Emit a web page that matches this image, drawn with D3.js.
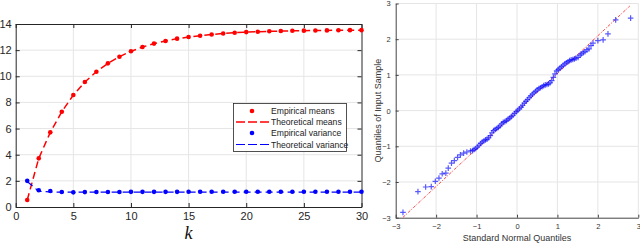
<!DOCTYPE html>
<html><head><meta charset="utf-8">
<script src="https://cdn.jsdelivr.net/npm/d3@7"></script>
<style>body{margin:0;background:#fff}svg{display:block;font-family:"Liberation Sans",Arial,sans-serif}</style>
</head><body>
<svg id="c" width="640" height="244"></svg>
<script>
// ---- Left chart data ----
const kValues = d3.range(1, 31);
const empiricalMeans = [0.54,3.72,5.71,7.29,8.57,9.56,10.35,10.99,11.5,11.91,12.24,12.5,12.7,12.88,13.0,13.1,13.2,13.27,13.33,13.38,13.41,13.44,13.46,13.48,13.49,13.5,13.51,13.52,13.53,13.53];
const theoreticalMeans = [0.54,3.72,5.71,7.29,8.57,9.56,10.35,10.99,11.5,11.91,12.24,12.5,12.7,12.88,13.0,13.1,13.2,13.27,13.33,13.38,13.41,13.44,13.46,13.48,13.49,13.5,13.51,13.52,13.53,13.53];
const empiricalVariance = [2.0,1.28,1.22,1.15,1.12,1.14,1.15,1.15,1.15,1.16,1.16,1.16,1.16,1.16,1.17,1.17,1.17,1.17,1.17,1.17,1.17,1.17,1.17,1.17,1.17,1.17,1.17,1.17,1.17,1.17];
const theoreticalVariance = [1.95,1.2,1.15,1.14,1.14,1.14,1.14,1.14,1.14,1.14,1.14,1.14,1.14,1.14,1.14,1.14,1.14,1.14,1.14,1.14,1.14,1.14,1.14,1.14,1.14,1.14,1.14,1.14,1.14,1.14];
const leftXTicks = [0,5,10,15,20,25,30];
const leftYTicks = [0,2,4,6,8,10,12,14];
const legendLabels = ["Empirical means","Theoretical means","Empirical variance","Theoretical variance"];

// ---- Right chart (QQ) data ----
const qqTheoretical = [-2.82,-2.45,-2.26,-2.12,-2.02,-1.93,-1.85,-1.76,-1.70,-1.62,-1.55,-1.47,-1.40,-1.32,-1.24,-1.15,
 -1.10,-1.06,-1.02,-0.98,-0.94,-0.90,-0.86,-0.82,-0.78,-0.74,-0.70,-0.66,-0.62,-0.58,-0.54,-0.50,-0.46,-0.42,-0.38,-0.34,-0.30,-0.26,-0.22,-0.18,-0.14,-0.10,-0.06,-0.02,
 0.02,0.06,0.10,0.14,0.18,0.22,0.26,0.30,0.34,0.38,0.42,0.46,0.50,0.54,0.58,0.62,0.66,0.70,0.74,0.78,0.82,0.86,0.90,0.94,0.98,1.02,1.06,1.10,1.14,1.18,1.22,1.26,1.30,1.34,1.38,1.42,1.46,1.51,1.56,1.59,1.64,1.68,1.73,1.78,1.83,1.88,2.00,2.13,2.25,2.44,2.81];
const qqSample = [-2.85,-2.27,-2.14,-2.13,-1.98,-1.89,-1.77,-1.75,-1.61,-1.47,-1.40,-1.31,-1.24,-1.19,-1.16,-1.13,
 -1.12,-1.09,-1.06,-1.02,-0.97,-0.92,-0.88,-0.85,-0.82,-0.80,-0.76,-0.70,-0.62,-0.56,-0.53,-0.50,-0.47,-0.43,-0.37,-0.33,-0.31,-0.28,-0.24,-0.21,-0.17,-0.13,-0.08,-0.03,
 0.01,0.05,0.10,0.15,0.21,0.26,0.31,0.36,0.41,0.46,0.50,0.54,0.58,0.62,0.64,0.67,0.70,0.72,0.73,0.75,0.78,0.84,0.93,1.03,1.11,1.15,1.19,1.23,1.27,1.31,1.34,1.37,1.40,1.42,1.43,1.45,1.47,1.49,1.55,1.59,1.62,1.65,1.70,1.73,1.82,1.89,1.96,1.98,2.15,2.54,2.59];
const refLineX = [-2.82, 2.79];
const refLineY = [-2.99, 2.93];
const rightTicks = [-3,-2,-1,0,1,2,3];

const svg = d3.select("#c");
const axisCol = "#262626", gridCol = "#e5e5e5";

// ================= LEFT =================
const xL = d3.scaleLinear().domain([0,30]).range([15.7,361.5]);
const yL = d3.scaleLinear().domain([0,14]).range([207,24]);
const gL = svg.append("g");
gL.append("g").selectAll("line").data(leftXTicks.slice(1,-1)).join("line")
  .attr("x1",d=>xL(d)).attr("x2",d=>xL(d)).attr("y1",yL(0)).attr("y2",yL(14))
  .attr("stroke",gridCol).attr("stroke-width",1);
gL.append("g").selectAll("line").data(leftYTicks.slice(1,-1)).join("line")
  .attr("y1",d=>yL(d)).attr("y2",d=>yL(d)).attr("x1",xL(0)).attr("x2",xL(30))
  .attr("stroke",gridCol).attr("stroke-width",1);
const axB = gL.append("g").attr("transform",`translate(0,${yL(0)})`)
  .call(d3.axisBottom(xL).tickValues(leftXTicks).tickSizeInner(-4).tickSizeOuter(0).tickPadding(5));
const axT = gL.append("g").attr("transform",`translate(0,${yL(14)})`)
  .call(d3.axisTop(xL).tickValues(leftXTicks).tickSizeInner(-4).tickSizeOuter(0).tickFormat(""));
const axLf = gL.append("g").attr("transform",`translate(${xL(0)},0)`)
  .call(d3.axisLeft(yL).tickValues(leftYTicks).tickSizeInner(-4).tickSizeOuter(0).tickPadding(4));
const axR = gL.append("g").attr("transform",`translate(${xL(30)},0)`)
  .call(d3.axisRight(yL).tickValues(leftYTicks).tickSizeInner(-4).tickSizeOuter(0).tickFormat(""));
[axB,axT,axLf,axR].forEach(a=>{
  a.select(".domain").attr("stroke",axisCol).attr("stroke-width",1);
  a.selectAll(".tick line").attr("stroke",axisCol);
  a.selectAll("text").attr("fill",axisCol).attr("font-size",11).attr("font-family","Liberation Sans, Arial, sans-serif");
});
const lineL = (arr)=>d3.line().x((d,i)=>xL(kValues[i])).y(d=>yL(d))(arr);
gL.append("path").attr("d",lineL(theoreticalMeans)).attr("fill","none").attr("stroke","#ff0000").attr("stroke-width",1.5).attr("stroke-dasharray","7,4");
gL.append("path").attr("d",lineL(theoreticalVariance)).attr("fill","none").attr("stroke","#0000ff").attr("stroke-width",1.2).attr("stroke-dasharray","7,4");
gL.append("g").selectAll("circle").data(empiricalMeans).join("circle")
  .attr("cx",(d,i)=>xL(kValues[i])).attr("cy",d=>yL(d)).attr("r",2.3).attr("fill","#ff0000");
gL.append("g").selectAll("circle").data(empiricalVariance).join("circle")
  .attr("cx",(d,i)=>xL(kValues[i])).attr("cy",d=>yL(d)).attr("r",2.3).attr("fill","#0000ff");
gL.append("text").attr("x",xL(15)).attr("y",238.5).attr("text-anchor","middle")
  .attr("font-family","Liberation Serif, serif").attr("font-style","italic").attr("font-size",18).attr("fill","#111").text("k");
const lg = gL.append("g");
lg.append("rect").attr("x",233.5).attr("y",103.5).attr("width",113).attr("height",48)
  .attr("fill","#fff").attr("stroke",axisCol).attr("stroke-width",0.8);
const legY = [111,122,133,144.5];
const legCol = ["#ff0000","#ff0000","#0000ff","#0000ff"];
legendLabels.forEach((t,i)=>{
  if(i%2===0){
    lg.append("circle").attr("cx",252).attr("cy",legY[i]).attr("r",2.3).attr("fill",legCol[i]);
  } else {
    lg.append("line").attr("x1",236).attr("x2",269).attr("y1",legY[i]).attr("y2",legY[i])
      .attr("stroke",legCol[i]).attr("stroke-width",i===1?1.5:1.2).attr("stroke-dasharray","9,3");
  }
  lg.append("text").attr("x",271).attr("y",legY[i]+3).attr("font-size",8.6).attr("fill","#222").text(t);
});

// ================= RIGHT =================
const xR = d3.scaleLinear().domain([-3,3]).range([395.7,638.3]);
const yR = d3.scaleLinear().domain([-3,3]).range([217.7,3.5]);
const gR = svg.append("g");
gR.append("g").selectAll("line").data(rightTicks.slice(1)).join("line")
  .attr("x1",d=>xR(d)).attr("x2",d=>xR(d)).attr("y1",yR(-3)).attr("y2",yR(3))
  .attr("stroke",gridCol);
gR.append("g").selectAll("line").data(rightTicks.slice(1)).join("line")
  .attr("y1",d=>yR(d)).attr("y2",d=>yR(d)).attr("x1",xR(-3)).attr("x2",xR(3))
  .attr("stroke",gridCol);
const rB = gR.append("g").attr("transform",`translate(0,${yR(-3)})`)
  .call(d3.axisBottom(xR).tickValues(rightTicks).tickFormat(d3.format("d")).tickSizeInner(-3).tickSizeOuter(0).tickPadding(6));
const rL = gR.append("g").attr("transform",`translate(${xR(-3)},0)`)
  .call(d3.axisLeft(yR).tickValues(rightTicks).tickFormat(d3.format("d")).tickSizeInner(-3).tickSizeOuter(0).tickPadding(5));
[rB,rL].forEach(a=>{
  a.select(".domain").attr("stroke","#444").attr("stroke-width",1);
  a.selectAll(".tick line").attr("stroke","#444");
  a.selectAll("text").attr("fill","#333").attr("font-size",7.5).attr("font-family","Liberation Sans, Arial, sans-serif");
});
gR.append("line").attr("x1",xR(refLineX[0])).attr("y1",yR(refLineY[0])).attr("x2",xR(refLineX[1])).attr("y2",yR(refLineY[1]))
  .attr("stroke","#ff3030").attr("stroke-width",0.9).attr("stroke-dasharray","3,1.5,1,1.5");
const cs = 2.8;
gR.append("g").selectAll("path").data(qqTheoretical).join("path")
  .attr("d",(d,i)=>{const x=xR(d), y=yR(qqSample[i]);return `M${x-cs},${y}H${x+cs}M${x},${y-cs}V${y+cs}`;})
  .attr("stroke","rgba(0,0,255,0.65)").attr("stroke-width",1.2).attr("fill","none");
gR.append("text").attr("x",xR(0)).attr("y",241).attr("text-anchor","middle").attr("font-size",9).attr("fill","#333").text("Standard Normal Quantiles");
gR.append("text").attr("transform",`translate(381,${yR(0)}) rotate(-90)`).attr("text-anchor","middle").attr("font-size",9).attr("fill","#333").text("Quantiles of Input Sample");
</script>
</body></html>
